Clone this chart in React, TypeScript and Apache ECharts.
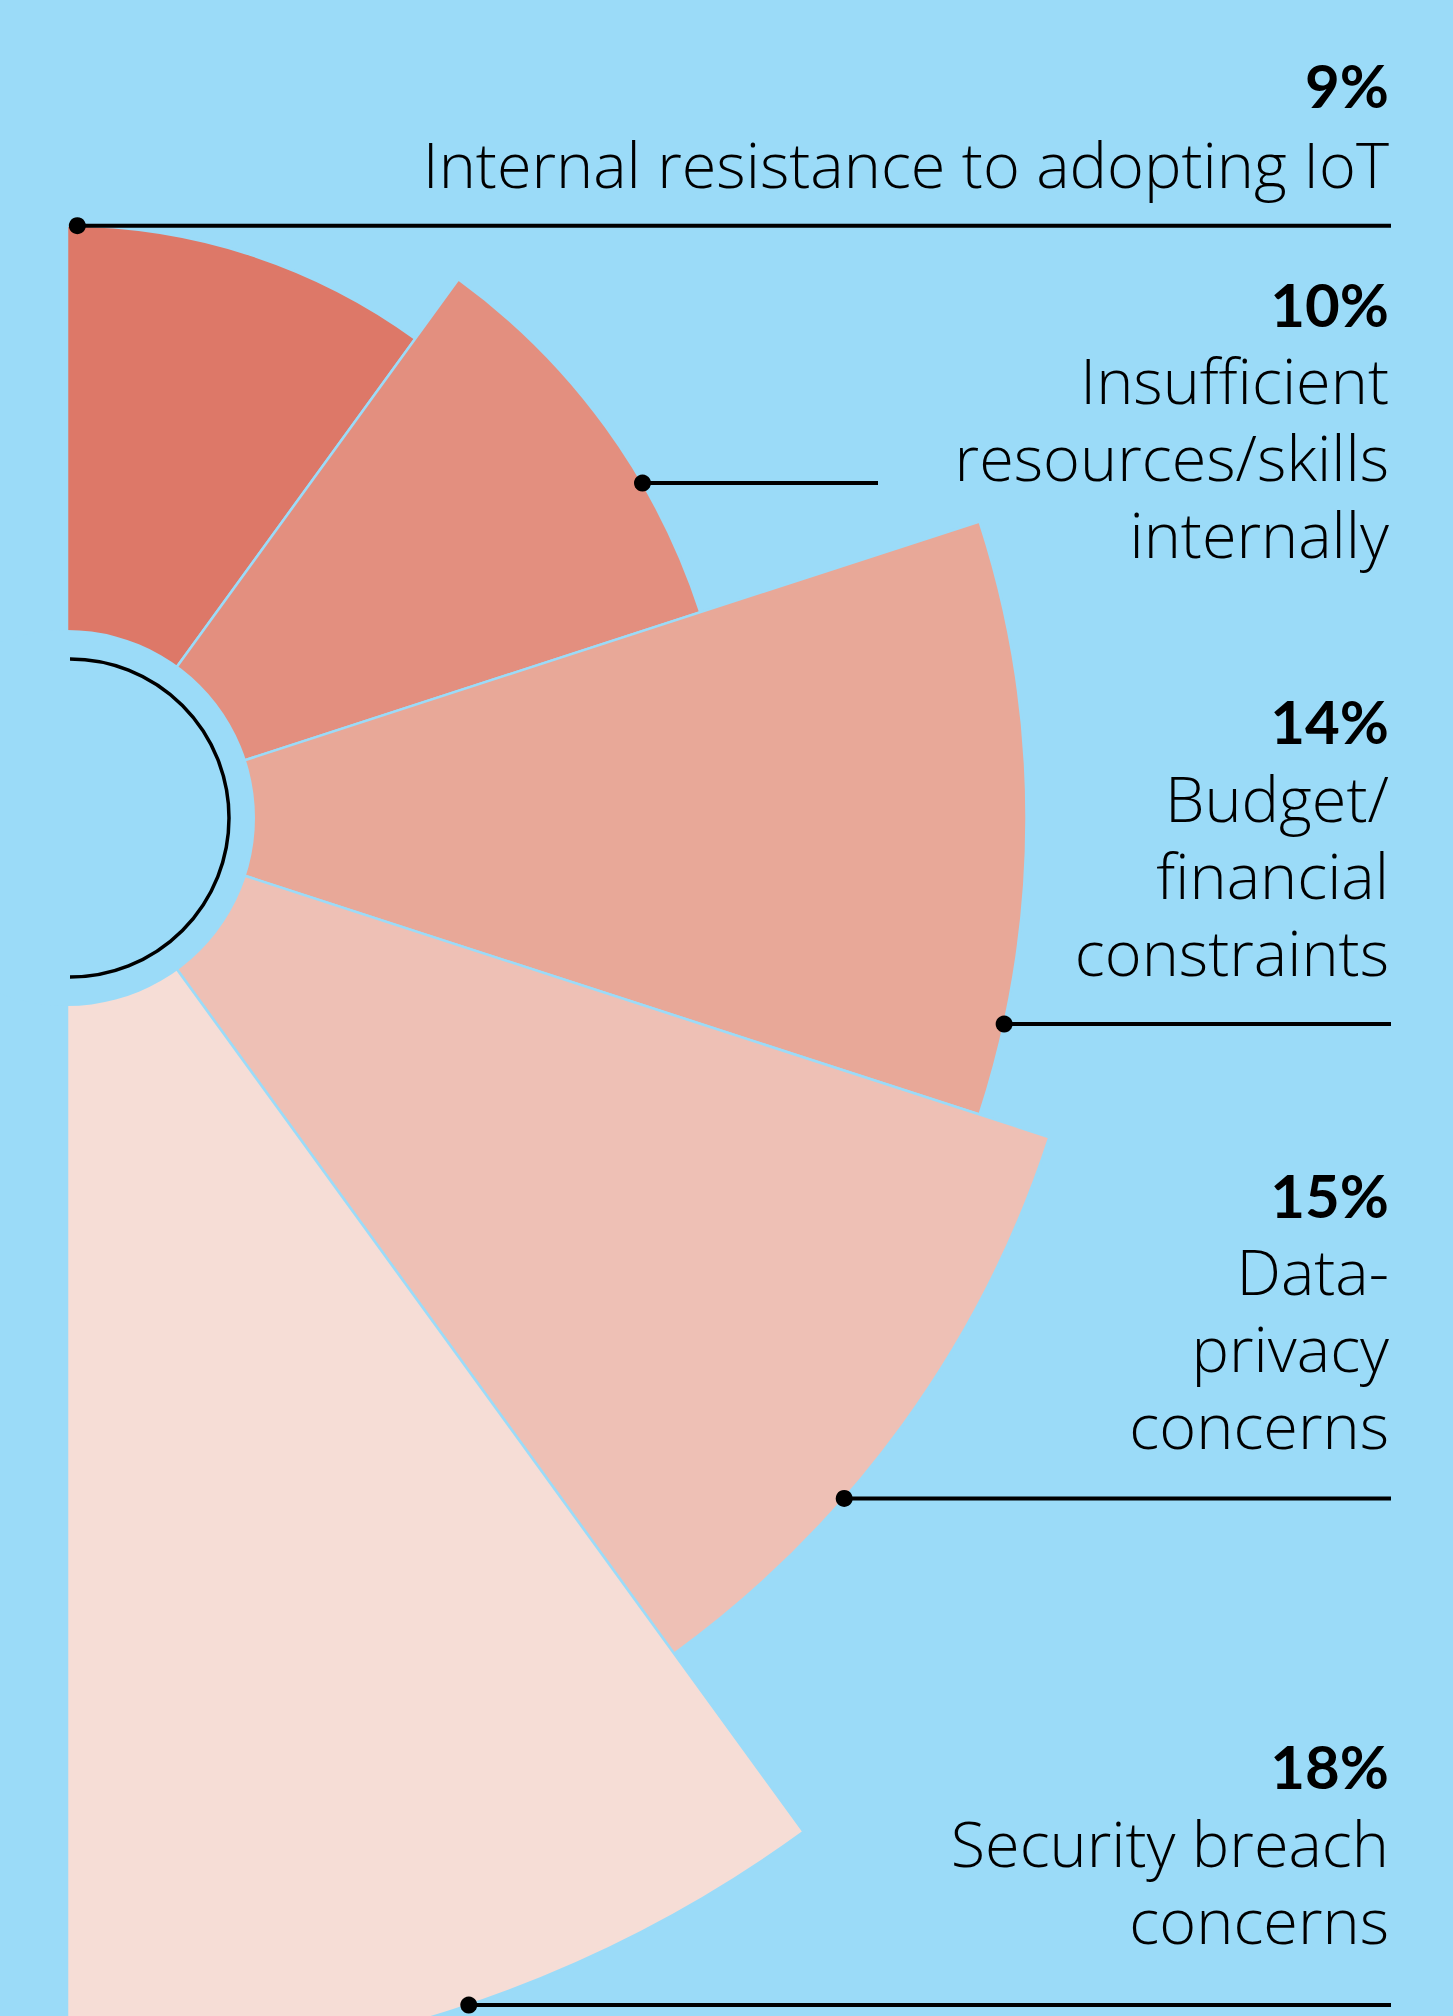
import React, { useEffect, useRef } from "react";
import * as echarts from "echarts";

// ---- data ----
const categories = [
  "Internal resistance to adopting IoT",
  "Insufficient resources/skills internally",
  "Budget/financial constraints",
  "Data-privacy concerns",
  "Security breach concerns",
];
const labelText = [
  "Internal resistance to adopting IoT",
  "Insufficient\nresources/skills\ninternally",
  "Budget/\nfinancial\nconstraints",
  "Data-\nprivacy\nconcerns",
  "Security breach\nconcerns",
];
const values = [9, 10, 14, 15, 18];

// ---- styles / layout ----
const BG = "#9BDBF8";
const COLORS = ["#DD7868", "#E38F7F", "#E8A898", "#EEC0B5", "#F6DDD6"];
const W = 1453;
const H = 2016;
const CENTER = [67, 818];
const R_MIN = 0.93;
const R_MAX = 20;
const R_PX = 1400;
const DOT_ANGLES = [89, 30.2, -12.4, -41.2, -71.3];
const LINE_END_X = [1391, 878, 1391, 1391, 1391];
const PCT_BASELINE = [109, 328, 745, 1219, 1790];
const LABEL_BASELINE = [189, 405, 823, 1296, 1868];
const TEXT_RIGHT = 1389;
const FONT = "'Open Sans', Lato, sans-serif";
const PCT_FONT = "Lato, 'Open Sans', sans-serif";
const FS = 63;
const LH = 77;
const PCT_FS = 60;

const hidden = {
  axisLine: { show: false },
  axisTick: { show: false },
  axisLabel: { show: false },
  splitLine: { show: false },
  splitArea: { show: false },
};

export default function App() {
  const ref = useRef<HTMLDivElement>(null);
  useEffect(() => {
    document.body.style.margin = "0";
    const chart = echarts.init(ref.current!, null, { renderer: "svg" });
    chart.setOption({
      animation: false,
      backgroundColor: BG,
      polar: [
        { center: CENTER, radius: [0, R_PX] },
        { center: CENTER, radius: [0, R_PX] },
      ],
      angleAxis: [
        {
          polarIndex: 0,
          type: "category",
          data: categories,
          startAngle: 90,
          endAngle: -90,
          clockwise: true,
          ...hidden,
        },
        {
          polarIndex: 1,
          type: "value",
          min: -180,
          max: 180,
          startAngle: 180,
          clockwise: false,
          ...hidden,
        },
      ],
      radiusAxis: [
        { polarIndex: 0, type: "value", min: R_MIN, max: R_MAX, ...hidden },
        { polarIndex: 1, type: "value", min: R_MIN, max: R_MAX, ...hidden },
      ],
      series: [
        {
          type: "bar",
          coordinateSystem: "polar",
          polarIndex: 0,
          barCategoryGap: "0%",
          silent: true,
          data: values.map((v, i) => ({
            value: v,
            itemStyle: { color: COLORS[i] },
          })),
          itemStyle: { borderColor: BG, borderWidth: 2.5 },
        },
        {
          type: "scatter",
          coordinateSystem: "polar",
          polarIndex: 1,
          symbolSize: 17,
          silent: true,
          z: 6,
          itemStyle: { color: "#000", opacity: 1 },
          data: values.map((v, i) => [v, DOT_ANGLES[i]]),
        },
      ],
    });

    const graphics: any[] = [
      {
        type: "circle",
        z: 4,
        silent: true,
        shape: { cx: CENTER[0], cy: CENTER[1], r: 188 },
        style: { fill: BG },
      },
      {
        type: "arc",
        z: 5,
        silent: true,
        shape: {
          cx: CENTER[0] + 3,
          cy: CENTER[1],
          r: 159,
          startAngle: -Math.PI / 2,
          endAngle: Math.PI / 2,
          clockwise: true,
        },
        style: { stroke: "#000", lineWidth: 3.5, fill: null },
      },
    ];
    values.forEach((v, i) => {
      const p = chart.convertToPixel({ seriesIndex: 1 }, [v, DOT_ANGLES[i]]) as number[];
      graphics.push({
        type: "line",
        z: 5,
        silent: true,
        shape: { x1: p[0], y1: p[1], x2: LINE_END_X[i], y2: p[1] },
        style: { stroke: "#000", lineWidth: 4 },
      });
      graphics.push({
        type: "text",
        z: 5,
        silent: true,
        x: TEXT_RIGHT,
        y: PCT_BASELINE[i] - 0.39 * PCT_FS - 1,
        style: {
          text: v + "%",
          fill: "#000",
          fontFamily: PCT_FONT,
          fontWeight: "bold",
          fontSize: PCT_FS,
          align: "right",
          verticalAlign: "middle",
        },
      });
      graphics.push({
        type: "text",
        z: 5,
        silent: true,
        x: TEXT_RIGHT,
        y: LABEL_BASELINE[i] - 0.39 * FS - 1 - LH / 2,
        style: {
          text: labelText[i],
          fill: "#000",
          fontFamily: FONT,
          fontWeight: 300,
          fontSize: FS,
          lineHeight: LH,
          align: "right",
          verticalAlign: "top",
        },
      });
    });
    chart.setOption({ graphic: graphics });
    return () => chart.dispose();
  }, []);
  return <div ref={ref} style={{ width: W, height: H }} />;
}
